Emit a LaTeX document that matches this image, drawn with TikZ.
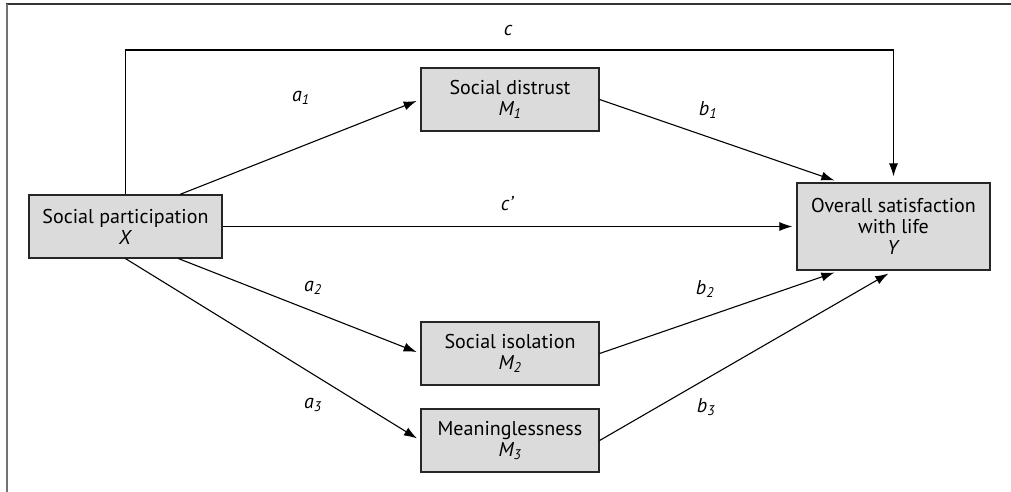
\documentclass[tikz,border=0pt]{standalone}
\usepackage{fontspec}
\setmainfont{PT Sans}
\usetikzlibrary{arrows.meta}
\begin{document}
\begin{tikzpicture}[x=1pt,y=-1pt,
  box/.style={draw=black!85,fill=black!14,line width=1.2pt,inner sep=0pt,align=center,
    font=\fontsize{20}{21}\selectfont},
  conn/.style={line width=1.1pt,-{Latex[length=13pt,width=9pt]}},
  lab/.style={font=\fontsize{20}{21}\selectfont\itshape,inner sep=0pt}]
\useasboundingbox (0,0) rectangle (1011,492);
% frame
\draw[line width=2pt,black!80] (5.5,4.5) -- (1011,4.5);
\draw[line width=2pt,black!55] (6.5,4) -- (6.5,492);
% nodes
\node[box,minimum width=193pt,minimum height=63pt] (X) at (125.5,226.5) {Social participation\\\textit{X}};
\node[box,minimum width=178pt,minimum height=63pt] (M1) at (510,99.5) {Social distrust\\\textit{M\textsubscript{1}}};
\node[box,minimum width=178pt,minimum height=63pt] (M2) at (510,353.5) {Social isolation\\\textit{M\textsubscript{2}}};
\node[box,minimum width=178pt,minimum height=63pt] (M3) at (510,440.5) {Meaninglessness\\\textit{M\textsubscript{3}}};
\node[box,minimum width=193pt,minimum height=87pt] (Y) at (893.5,226.5) {Overall satisfaction\\with life\\\textit{Y}};
\coordinate (ctop) at (0,50);
% connectors
\draw[conn,shorten >=6pt] (X.north) -- (X.north |- ctop) -- (Y.north |- ctop) -- (Y.north);
\draw[conn,shorten >=4pt] ([xshift=54.5pt]X.north) -- (M1.west);
\draw[conn,shorten >=6pt] (M1.east) -- ([xshift=-53.5pt]Y.north);
\draw[conn,shorten >=4pt] (X.east) -- (Y.west);
\draw[conn,shorten >=4pt] ([xshift=53pt]X.south) -- (M2.west);
\draw[conn,shorten >=4pt] (X.south) -- (M3.west);
\draw[conn,shorten >=6pt] (M2.east) -- ([xshift=-53.5pt]Y.south);
\draw[conn,shorten >=6pt] (M3.east) -- (Y.south);
% labels
\node[lab] (lc) at (508,31) {c};
\node[lab] (la1) at (301,98) {a\textsubscript{1}};
\node[lab] (lb1) at (708,110) {b\textsubscript{1}};
\node[lab] (lcp) at (507,204) {c’};
\node[lab] (la2) at (313,288) {a\textsubscript{2}};
\node[lab] (lb2) at (705,289) {b\textsubscript{2}};
\node[lab] (la3) at (313,405) {a\textsubscript{3}};
\node[lab] (lb3) at (706,407) {b\textsubscript{3}};
\end{tikzpicture}
\end{document}
